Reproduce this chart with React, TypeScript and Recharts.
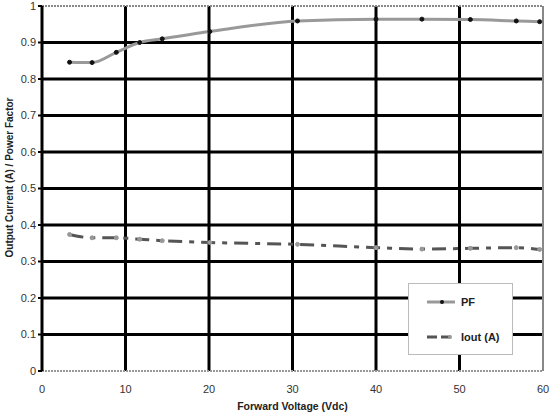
import React from "react";
import {
  LineChart,
  Line,
  XAxis,
  YAxis,
  CartesianGrid,
  ReferenceLine,
} from "recharts";

const voltage = [3.3, 6.0, 8.9, 11.7, 14.4, 20.1, 30.6, 40.0, 45.5, 51.3, 56.8, 59.6];
const pf = [0.846, 0.845, 0.873, 0.9, 0.91, 0.93, 0.959, 0.964, 0.964, 0.963, 0.959, 0.957];
const iout = [0.374, 0.365, 0.365, 0.361, 0.357, 0.352, 0.347, 0.338, 0.334, 0.336, 0.338, 0.333];

const xTicks = [0, 10, 20, 30, 40, 50, 60];
const yTicks = [0, 0.1, 0.2, 0.3, 0.4, 0.5, 0.6, 0.7, 0.8, 0.9, 1];

const rows = voltage.map((v, i) => ({ v, pf: pf[i], iout: iout[i] }));

const FONT = "Liberation Sans, Arial, sans-serif";
const IOUT_DASH = "14 7 5 7";

// rotated y title, sits a bit above the plot middle like the original
function YTitle({ viewBox }: any) {
  const cx = 9;
  const cy = viewBox.y + viewBox.height / 2 - 11;
  return (
    <text
      x={cx}
      y={cy}
      transform={`rotate(-90 ${cx} ${cy})`}
      textAnchor="middle"
      dominantBaseline="central"
      fontFamily={FONT}
      fontWeight="bold"
      fontSize={10}
      fill="#222"
    >
      Output Current (A) / Power Factor
    </text>
  );
}

// legend box, drawn over the plot like the Excel original
function LegendBox() {
  return (
    <div
      style={{
        position: "absolute",
        left: 408,
        top: 283,
        width: 105,
        height: 72,
        background: "#fff",
        border: "1px solid #bbb",
        boxSizing: "border-box",
      }}
    >
      <svg width={103} height={70}>
        <line x1={18} y1={18} x2={46} y2={18} stroke="#999" strokeWidth={3} />
        <circle cx={33} cy={18} r={2} fill="#111" />
        <text x={52} y={22} fontFamily={FONT} fontWeight="bold" fontSize={11} fill="#222">
          PF
        </text>
        <line x1={18} y1={53} x2={46} y2={53} stroke="#555" strokeWidth={3} strokeDasharray="10 4" />
        <circle cx={41} cy={53} r={2} fill="#999" />
        <text x={52} y={57} fontFamily={FONT} fontWeight="bold" fontSize={11} fill="#222">
          Iout (A)
        </text>
      </svg>
    </div>
  );
}

export default function App() {
  return (
    <div style={{ position: "absolute", left: 0, top: 0, width: 550, height: 413, background: "#fff" }}>
      <LineChart
        width={550}
        height={413}
        data={rows}
        margin={{ top: 6, right: 7, left: 0, bottom: 0 }}
      >
        <CartesianGrid
          stroke="#000"
          strokeWidth={3}
          horizontalValues={[0.1, 0.2, 0.3, 0.4, 0.5, 0.6, 0.7, 0.8, 0.9]}
          verticalValues={[10, 20, 30, 40, 50]}
        />
        <XAxis
          dataKey="v"
          type="number"
          domain={[0, 60]}
          ticks={xTicks}
          height={42}
          axisLine={false}
          tickLine={false}
          tick={{ fill: "#333", fontSize: 11, fontFamily: FONT }}
          tickMargin={8}
          label={{
            value: "Forward Voltage (Vdc)",
            position: "insideBottom",
            offset: 3,
            fill: "#222",
            fontSize: 10.5,
            fontWeight: "bold",
            fontFamily: FONT,
          }}
        />
        <YAxis
          type="number"
          domain={[0, 1]}
          ticks={yTicks}
          width={42}
          axisLine={{ stroke: "#000", strokeWidth: 3 }}
          tickLine={{ stroke: "#000", strokeWidth: 2 }}
          tickSize={4}
          tick={{ fill: "#333", fontSize: 11, fontFamily: FONT }}
          label={<YTitle />}
        />
        <ReferenceLine y={1} stroke="#888" strokeWidth={2} strokeDasharray="2 1" />
        <ReferenceLine y={0} stroke="#999" strokeWidth={2} strokeDasharray="2 1" />
        <ReferenceLine x={60} stroke="#888" strokeWidth={2} />
        <Line
          type="monotone"
          dataKey="pf"
          stroke="#999"
          strokeWidth={3}
          dot={{ r: 2, fill: "#111", stroke: "#111", strokeWidth: 1 }}
          isAnimationActive={false}
        />
        <Line
          type="monotone"
          dataKey="iout"
          stroke="#555"
          strokeWidth={3}
          strokeDasharray={IOUT_DASH}
          dot={{ r: 2, fill: "#999", stroke: "#999", strokeWidth: 1, strokeDasharray: "" }}
          isAnimationActive={false}
        />
      </LineChart>
      <LegendBox />
    </div>
  );
}
